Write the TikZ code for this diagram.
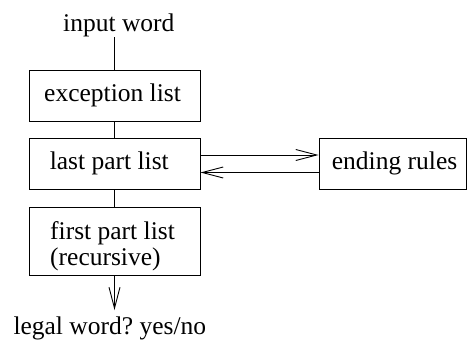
\documentclass[tikz,border=0pt]{standalone}
\usepackage{fontspec}
\setmainfont{Liberation Serif}
\usetikzlibrary{arrows.meta}
\frenchspacing
\begin{document}
\begin{tikzpicture}[x=1pt,y=-1pt,
  box/.style={draw, line width=0.9pt, rectangle, inner sep=0pt},
  lbl/.style={inner sep=0pt, anchor=base west, font=\fontsize{25.5}{26}\selectfont},
  conn/.style={line width=0.9pt},
  arr/.style={line width=0.9pt, -{Straight Barb[length=21pt,width=11pt,line width=0.9pt]}}]
\useasboundingbox (0,0) rectangle (467,341);
% boxes
\node[box, minimum width=171pt, minimum height=51pt] (ex) at (114.5,95.5) {};
\node[box, minimum width=171pt, minimum height=51pt] (last) at (114.5,163.5) {};
\node[box, minimum width=171pt, minimum height=68pt] (first) at (114.5,241) {};
\node[box, minimum width=147pt, minimum height=51pt] (end) at (392.5,163.5) {};
% texts
\node[lbl] (inp) at (63,31.7) {input word};
\node[lbl] (extext) at (44,101.5) {exception list};
\node[lbl] (lasttext) at (49.6,169) {last part list};
\node[lbl] (firsttext) at (50,239.4) {first part list};
\node[lbl] (rectext) at (50,265.5) {(recursive)};
\node[lbl] (endtext) at (331.7,169) {ending rules};
\node[lbl] (legal) at (13.3,334) {legal word? yes/no};
% connectors
\coordinate (out) at (114.5,310);
\draw[conn] (inp.south -| ex.north) -- (ex.north);
\draw[conn] (ex.south) -- (last.north);
\draw[conn] (last.south) -- (first.north);
\draw[arr] (first.south) -- (out);
\draw[arr] ([yshift=8.5pt]last.east) -- ([yshift=8.5pt]end.west);
\draw[arr] ([yshift=-9pt]end.west) -- ([yshift=-9pt]last.east);
\end{tikzpicture}
\end{document}
